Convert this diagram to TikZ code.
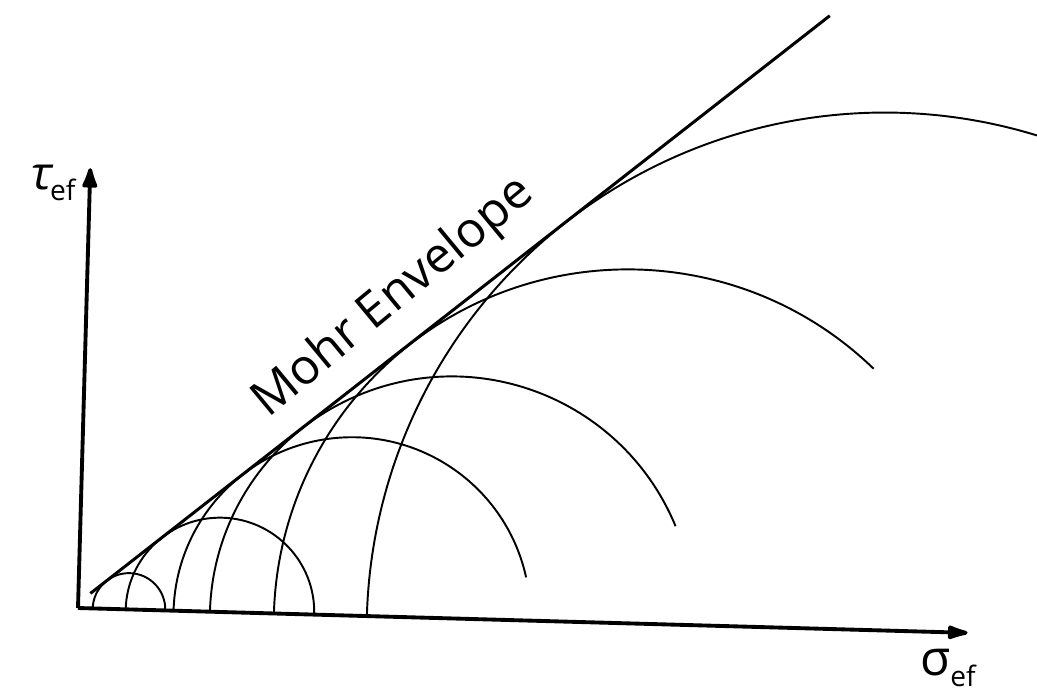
\documentclass[tikz,border=0pt]{standalone}
\usepackage{fontspec}
\setmainfont{Open Sans}
\newfontfamily\slantfont[FakeSlant=0.2]{Open Sans}
\usetikzlibrary{arrows.meta}

\begin{document}
\begin{tikzpicture}[x=0.02cm, y=0.02cm,
    axis/.style={line width=2.2pt},
    circ/.style={line width=1.1pt},
    env/.style={line width=1.7pt}]
    \useasboundingbox (0,0) rectangle (1037,698);
    % tilted frame of the axes
    \begin{scope}[shift={(78,90)}, rotate=-1.6]
        \coordinate (O) at (0,0);
        \coordinate (xend) at (890,0);
        \coordinate (yend) at (0,440);
        \draw[axis, -{Latex[length=16pt, width=9pt, round]}] (O) -- (xend);
        \draw[axis, -{Latex[length=15pt, width=10pt, round]}] (O) -- (yend);
        % Mohr circles: centre / radius / end angle
        \foreach \c/\r/\e in {51/36.3/0, 142/94.3/0, 274/178.4/14, 374/242/24, 550/354/47.6, 807/518/73}{
            \draw[circ] ({\c+\r*cos(\e)},{\r*sin(\e)}) arc[start angle=\e, end angle=180, radius=\r];
        }
        % envelope
        \coordinate (e1) at (12,{5+12*0.8273});
        \coordinate (e2) at (735,{5+735*0.8273});
        \draw[env] (e1) -- node[pos=0.45, sloped, above=8pt, font=\fontsize{28}{28}\selectfont] (envlabel) {Mohr Envelope} (e2);
    \end{scope}
    \node (tau) at (52,515) {{\slantfont\fontsize{26}{26}\selectfont τ}\raisebox{-6pt}{\fontsize{16}{16}\selectfont ef}};
    \node (sigma) at (948,30) {{\fontsize{28}{28}\selectfont σ}\raisebox{-6pt}{\fontsize{16}{16}\selectfont ef}};
\end{tikzpicture}
\end{document}
